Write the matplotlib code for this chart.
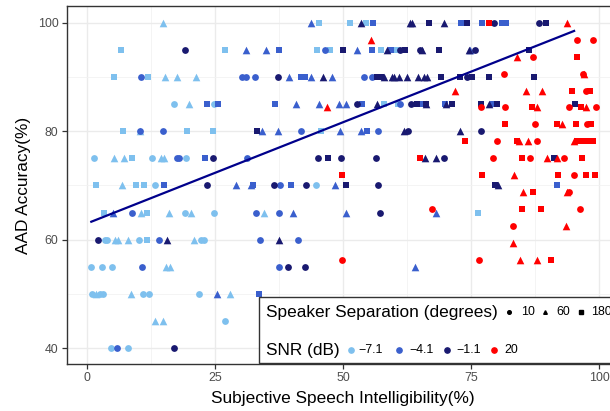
import numpy as np
import matplotlib
matplotlib.use("Agg")
import matplotlib.pyplot as plt
from matplotlib.lines import Line2D
from matplotlib.patches import Rectangle

plt.rcParams['font.family'] = ['Liberation Sans', 'DejaVu Sans']

# SNR -7.1 dB
snr71_x = [14.9, 6.6, 27.0, 5.4, 11.9, 15.3, 17.6, 21.3, 17.1, 20.0, 24.9, 7.0, 10.4, 19.6, 24.6,
           45.4, 51.4, 54.4, 45.0, 47.4, 57.4, 60.5, 58.0, 60.8, 45.8,
           1.5, 5.3, 7.3, 8.9, 12.8, 14.5, 15.1, 19.3,
           1.9, 6.9, 9.6, 11.2, 13.3, 44.8,
           3.3, 10.6, 11.7, 16.0, 19.1, 20.4, 24.9, 34.5, 76.4,
           3.5, 3.9, 5.5, 6.1, 8.0, 10.2, 11.8, 21.0, 22.3, 22.8,
           0.8, 2.9, 5.0, 15.4, 16.3,
           1.0, 1.9, 2.5, 3.2, 8.6, 11.0, 12.1, 21.9, 27.9,
           13.3, 14.8, 27.0, 4.8, 8.0]
snr71_y = [100, 95, 95, 90, 90, 90, 90, 90, 85, 85, 85, 80, 80, 80, 80,
           100, 100, 100, 95, 95, 95, 95, 85, 85, 80,
           75, 75, 75, 75, 75, 75, 75, 75,
           70, 70, 70, 70, 70, 70,
           65, 65, 65, 65, 65, 65, 65, 65, 65,
           60, 60, 60, 60, 60, 60, 60, 60, 60, 60,
           55, 55, 55, 55, 55,
           50, 50, 50, 50, 50, 50, 50, 50, 50,
           45, 45, 45, 40, 40]
snr71_sep = [60, 180, 180, 180, 180, 60, 60, 60, 10, 60, 10, 180, 60, 180, 180,
             180, 180, 180, 180, 180, 180, 180, 180, 180, 180,
             10, 60, 60, 180, 10, 60, 60, 10,
             180, 60, 180, 180, 10, 10,
             180, 60, 180, 60, 10, 60, 10, 60, 180,
             10, 10, 60, 60, 60, 10, 180, 60, 10, 10,
             10, 10, 10, 60, 60,
             10, 60, 10, 10, 60, 10, 10, 10, 60,
             60, 60, 10, 10, 10]

# SNR -4.1 dB
snr41_x = [43.7, 55.8, 73.1, 77.2, 81.1, 81.9,
           31.1, 35.0, 37.6, 46.4, 52.7, 55.6, 59.4, 74.8,
           10.6, 30.3, 31.1, 32.8, 39.4, 41.9, 42.5, 43.7, 47.8, 54.1, 55.6,
           23.4, 25.6, 36.8, 40.9, 45.4, 49.2, 50.5, 53.7, 61.1, 65.5, 69.9, 79.3,
           10.4, 14.9, 34.2, 37.3, 41.8, 49.4, 53.5, 54.7, 56.9,
           17.6, 18.1, 23.1, 31.3,
           15.1, 29.1, 32.1, 32.5, 37.7, 39.8, 48.4, 91.7,
           5.2, 8.9, 33.0, 37.5, 40.2, 50.5, 68.2,
           14.1, 33.9, 41.3,
           10.8, 37.5, 64.1,
           25.4, 33.6, 6.0]
snr41_y = [100, 100, 100, 100, 100, 100,
           95, 95, 95, 95, 95, 95, 95, 95,
           90, 90, 90, 90, 90, 90, 90, 90, 90, 90, 90,
           85, 85, 85, 85, 85, 85, 85, 85, 85, 85, 85, 85,
           80, 80, 80, 80, 80, 80, 80, 80, 80,
           75, 75, 75, 75,
           70, 70, 70, 70, 70, 70, 70, 70,
           65, 65, 65, 65, 65, 65, 65,
           60, 60, 60,
           55, 55, 55,
           50, 50, 40]
snr41_sep = [60, 180, 180, 180, 180, 180,
             60, 60, 180, 10, 60, 180, 180, 60,
             10, 10, 10, 10, 60, 180, 180, 60, 60, 10, 10,
             180, 180, 180, 60, 60, 60, 60, 180, 10, 180, 180, 180,
             10, 10, 60, 60, 10, 60, 60, 180, 10,
             10, 10, 180, 10,
             180, 60, 60, 180, 10, 180, 60, 180,
             60, 10, 10, 10, 60, 60, 60,
             10, 10, 10,
             10, 10, 60,
             60, 180, 10]

# SNR -1.1 dB
snr11_x = [53.6, 63.0, 63.4, 66.7, 69.7, 74.2, 79.5, 88.2, 89.7,
           19.1, 50.1, 58.5, 61.1, 62.1, 65.0, 65.5, 68.8, 74.5, 75.8, 86.3,
           37.4, 46.1, 56.7, 57.4, 58.0, 59.5, 60.0, 61.0, 62.4, 64.6, 65.9, 66.4,
           69.1, 72.8, 74.2, 75.2, 78.4, 87.2,
           52.7, 56.7, 63.3, 64.4, 66.3, 66.3, 70.2, 71.3, 76.9, 78.4, 80.1, 95.2,
           33.2, 62.0, 62.6, 72.8, 76.9,
           24.7, 45.1, 47.0, 49.7, 56.5, 66.0, 68.2, 69.7, 91.1,
           23.4, 36.5, 42.7, 50.5, 56.8, 79.7, 80.2,
           57.3, 2.3, 15.7, 37.5, 39.3, 42.5, 17.0]
snr11_y = [100, 100, 100, 100, 100, 100, 100, 100, 100,
           95, 95, 95, 95, 95, 95, 95, 95, 95, 95, 95,
           90, 90, 90, 90, 90, 90, 90, 90, 90, 90, 90, 90,
           90, 90, 90, 90, 90, 90,
           85, 85, 85, 85, 85, 85, 85, 85, 85, 85, 85, 85,
           80, 80, 80, 80, 80,
           75, 75, 75, 75, 75, 75, 75, 75, 75,
           70, 70, 70, 70, 70, 70, 70,
           65, 60, 60, 60, 55, 55, 40]
snr11_sep = [60, 60, 60, 180, 60, 180, 10, 10, 180,
             10, 180, 60, 10, 180, 10, 60, 180, 60, 10, 180,
             10, 60, 180, 180, 60, 60, 60, 60, 60, 60, 60, 60,
             180, 180, 10, 180, 180, 180,
             10, 60, 10, 180, 180, 60, 60, 180, 180, 60, 180, 180,
             180, 60, 10, 60, 10,
             10, 10, 180, 10, 10, 60, 60, 10, 180,
             10, 10, 10, 180, 10, 180, 60,
             10, 10, 60, 60, 10, 10, 10]

# SNR 20 dB
snr20_x = [55.4, 95.6, 98.7, 78.5, 93.8,
           83.9, 87.0, 95.7,
           81.4, 96.8, 97.0,
           71.9, 85.7, 88.9, 94.7, 97.5, 98.2,
           46.8, 77.0, 81.6, 86.8, 87.9, 94.2, 96.4, 97.4, 99.3,
           81.6, 87.4, 91.7, 92.8, 95.5, 97.7, 98.4,
           73.9, 80.1, 84.0, 84.3, 86.2, 87.9, 95.1, 95.7, 96.9, 97.9, 98.7,
           65.1, 79.3, 84.9, 86.5, 89.9, 91.7, 93.2, 96.6,
           49.8, 77.1, 83.4, 91.9, 95.1, 97.4, 99.2,
           85.1, 87.0, 93.7, 94.2,
           67.4, 84.9, 88.6, 96.3,
           83.2, 93.6, 83.1,
           49.9, 76.5, 84.6, 87.9, 90.6]
snr20_y = [96.875, 96.875, 96.875, 100, 100,
           93.75, 93.75, 93.75,
           90.625, 90.625, 90.625,
           87.5, 87.5, 87.5, 87.5, 87.5, 87.5,
           84.375, 84.375, 84.375, 84.375, 84.375, 84.375, 84.375, 84.375, 84.375,
           81.25, 81.25, 81.25, 81.25, 81.25, 81.25, 81.25,
           78.125, 78.125, 78.125, 78.125, 78.125, 78.125, 78.125, 78.125, 78.125, 78.125, 78.125,
           75, 75, 75, 75, 75, 75, 75, 75,
           71.875, 71.875, 71.875, 71.875, 71.875, 71.875, 71.875,
           68.75, 68.75, 68.75, 68.75,
           65.625, 65.625, 65.625, 65.625,
           62.5, 62.5, 59.375,
           56.25, 56.25, 56.25, 56.25, 56.25]
snr20_sep = [60, 10, 10, 180, 60,
             60, 10, 180,
             10, 10, 60,
             60, 60, 60, 180, 10, 180,
             60, 10, 10, 180, 60, 10, 180, 60, 10,
             180, 10, 180, 60, 180, 10, 180,
             180, 10, 180, 60, 60, 10, 60, 180, 180, 180, 180,
             180, 10, 180, 10, 60, 60, 10, 180,
             180, 180, 60, 180, 10, 180, 180,
             60, 180, 60, 10,
             10, 180, 180, 10,
             10, 60, 60,
             10, 10, 60, 60, 180]

# linear fit line
fit_x = [0.9, 95.1]
fit_y = [63.3, 98.5]

snr_labels = ['\u22127.1', '\u22124.1', '\u22121.1', '20']
snr_colors = ['#7EC0EE', '#3A5FCD', '#191970', '#FF0000']
sep_levels = [10, 60, 180]
sep_markers = {10: 'o', 60: '^', 180: 's'}
sep_sizes = {10: 24, 60: 30, 180: 23}

groups = [(snr71_x, snr71_y, snr71_sep), (snr41_x, snr41_y, snr41_sep),
          (snr11_x, snr11_y, snr11_sep), (snr20_x, snr20_y, snr20_sep)]

W, H = 610, 411
fig = plt.figure(figsize=(W / 100, H / 100), dpi=100)
ax = fig.add_axes([66.7 / W, 1 - 364 / H, 552 / W, 358 / H])

for (gx, gy, gs), col in zip(groups, snr_colors):
    gx, gy, gs = np.array(gx), np.array(gy), np.array(gs)
    for sep in sep_levels:
        m = gs == sep
        ax.scatter(gx[m], gy[m], marker=sep_markers[sep], s=sep_sizes[sep],
                   color=col, linewidths=0, zorder=3)

ax.plot(fit_x, fit_y, color='#00008B', lw=1.6, zorder=4)

ax.set_xlim(-3.9, 103.8)
ax.set_ylim(37.05, 103.1)
ax.set_xticks([0, 25, 50, 75, 100])
ax.set_xticks([12.5, 37.5, 62.5, 87.5], minor=True)
ax.set_yticks([40, 60, 80, 100])
ax.set_yticks([50, 70, 90], minor=True)
ax.grid(True, which='major', color='#EBEBEB', lw=1.0, zorder=0)
ax.grid(True, which='minor', color='#F2F2F2', lw=0.6, zorder=0)
ax.set_axisbelow(True)
ax.tick_params(which='major', length=3.5, width=0.9, color='#333333',
               labelsize=8.9, labelcolor='#4D4D4D', pad=2.5)
ax.tick_params(which='minor', length=0)
for sp in ax.spines.values():
    sp.set_color('#333333')
    sp.set_linewidth(1.0)

ax.set_xlabel('Subjective Speech Intelligibility(%)', fontsize=12.4, labelpad=4.5)
ax.set_ylabel('AAD Accuracy(%)', fontsize=12.4, labelpad=5)

# legend box drawn at bottom right
def fx(px):
    return px / W

def fy(py):
    return 1 - py / H

fig.add_artist(Rectangle((fx(259.3), fy(362.7)), fx(400), (362.7 - 296.7) / H,
                         transform=fig.transFigure, facecolor='white',
                         edgecolor='#333333', lw=1.0, zorder=5))
fig.text(fx(266), fy(312.3), 'Speaker Separation (degrees)', fontsize=12.4,
         va='center', ha='left', zorder=6)
shape_keys = [(508.7, 520.7, 10), (545, 556, 60), (581, 590.7, 180)]
for kx, tx, sep in shape_keys:
    fig.add_artist(Line2D([fx(kx)], [fy(312.3)], marker=sep_markers[sep],
                          markersize=2.6, color='black', lw=0,
                          transform=fig.transFigure, zorder=6))
    fig.text(fx(tx), fy(312.3), str(sep), fontsize=8.9, va='center', ha='left', zorder=6)

fig.text(fx(266), fy(350), 'SNR (dB)', fontsize=12.4, va='center', ha='left', zorder=6)
snr_keys = [(350.7, 358.3), (399.3, 409.3), (446.7, 456.7), (494, 504)]
for (kx, tx), lab, col in zip(snr_keys, snr_labels, snr_colors):
    fig.add_artist(Line2D([fx(kx)], [fy(350)], marker='o', markersize=3.8,
                          color=col, lw=0, transform=fig.transFigure, zorder=6))
    fig.text(fx(tx), fy(350), lab, fontsize=8.9, va='center', ha='left', zorder=6)

fig.savefig('out.png', dpi=100)
